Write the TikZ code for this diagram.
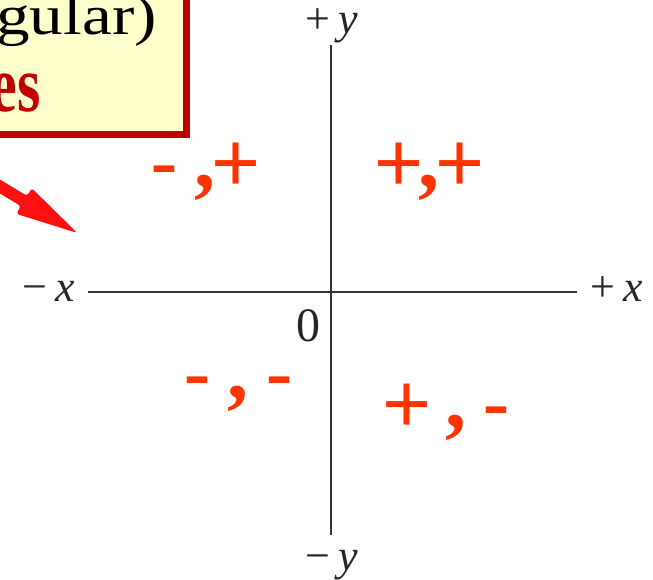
\documentclass[tikz,border=0pt]{standalone}
\usepackage{fontspec}
\setmainfont{Liberation Serif}
\newfontfamily\sansf{Liberation Sans}
\definecolor{boxfill}{HTML}{FFFFCC}
\definecolor{boxline}{HTML}{C00000}
\definecolor{quadred}{HTML}{FF3300}
\definecolor{axisgray}{HTML}{333333}
\definecolor{arrowred}{HTML}{FF1010}
\newcommand\placeg[3]{\rlap{\hspace*{#1pt}\raisebox{#2pt}{\makebox[0pt]{#3}}}}
\newcommand\qsign{\sansf\fontsize{84}{84}\selectfont}
\newcommand\qcomma{\rmfamily\bfseries\fontsize{84}{84}\selectfont}
\tikzset{
  quad/.style={anchor=base west, inner sep=0pt, text=quadred, font=\qsign},
  axlabel/.style={anchor=base west, inner sep=0pt, text=black!85, font=\fontsize{44}{44}\selectfont},
  axisline/.style={draw=axisgray, line width=2.8pt},
}
\begin{document}
\begin{tikzpicture}[x=1pt,y=-1pt]
\useasboundingbox (0,0) rectangle (653,579);
\fill[white] (0,0) rectangle (653,579);
\begin{scope}
\clip (0,0) rectangle (653,579);
% yellow note box (cut by picture edge)
\draw[fill=boxfill, draw=boxline, line width=7pt] (-60,-60) rectangle (186,134);
\node[anchor=base east, inner sep=0pt, font=\fontsize{56}{56}\selectfont, text=black, xscale=1.2] (t1) at (157,34) {angular)};
\node[anchor=base east, inner sep=0pt, font=\bfseries\fontsize{80}{80}\selectfont, text=boxline, xscale=0.75] (t2) at (41,111) {es};
% red arrow
\fill[arrowred, rounded corners=3pt] (-7.2,175.3) -- (27.1,195.9) -- (31.7,188.1) -- (77.1,232.9) -- (16.3,213.9) -- (20.9,206.1) -- (-13.4,185.5) -- cycle;
\end{scope}
% axes
\coordinate (xl) at (88,292);
\coordinate (xr) at (577,292);
\coordinate (yt) at (331,45);
\coordinate (yb) at (331,535);
\draw[axisline] (xl) -- (xr);
\draw[axisline] (yt) -- (yb);
% axis labels
\node[axlabel] (mx) at (22,301) {−\hspace{8pt}\textit{x}};
\node[axlabel] (px) at (590,301) {+\hspace{8pt}\textit{x}};
\node[axlabel] (py) at (305,33) {+\hspace{8pt}\textit{y}};
\node[axlabel] (my) at (305,570) {−\hspace{8pt}\textit{y}};
\node[anchor=base, inner sep=0pt, text=black!85, font=\fontsize{48}{48}\selectfont] (o) at (308,341) {0};
% quadrant signs
\node[quad] (q2) at (164,191) {\placeg{0}{0}{-}\placeg{40}{4}{\qcomma,}\placeg{71}{0}{+}};
\node[quad] (q1) at (398,191) {\placeg{0}{0}{+}\placeg{30}{4}{\qcomma,}\placeg{61}{0}{+}};
\node[quad] (q3) at (197,402) {\placeg{0}{0}{-}\placeg{40.5}{4}{\qcomma,}\placeg{82}{0}{-}};
\node[quad] (q4) at (406.5,432) {\placeg{0}{0}{+}\placeg{49}{5}{\qcomma,}\placeg{89}{0}{-}};
\end{tikzpicture}
\end{document}
